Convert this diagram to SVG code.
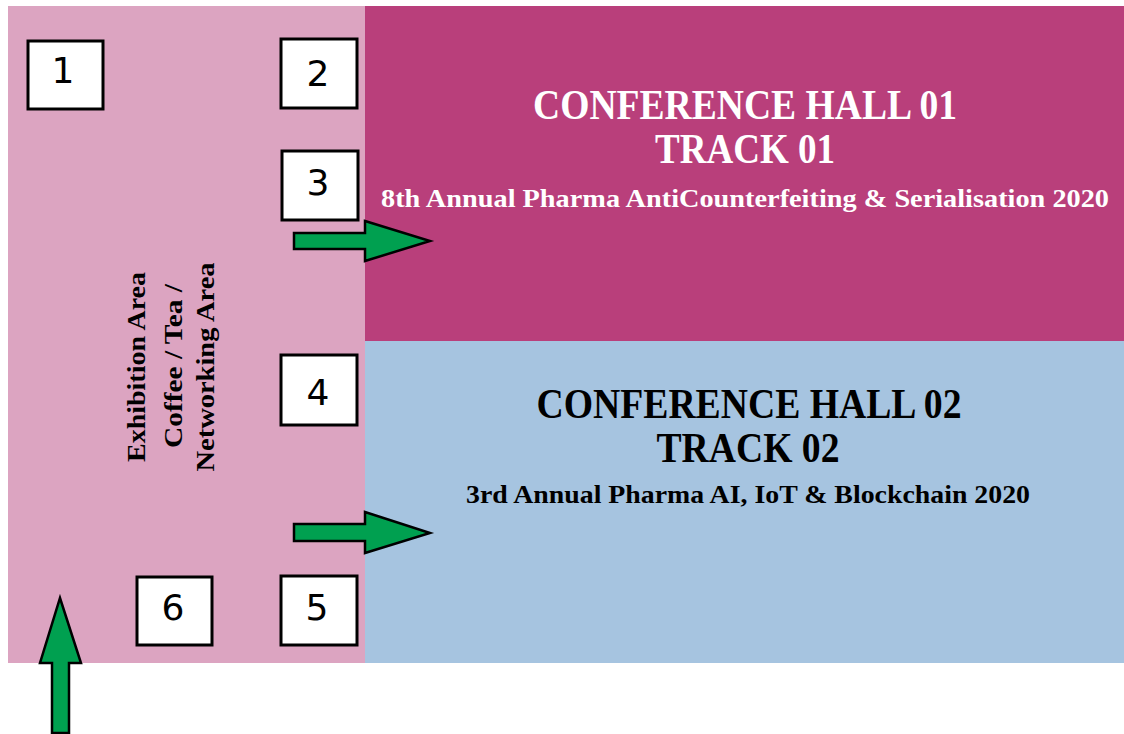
<svg xmlns="http://www.w3.org/2000/svg" width="1124" height="734" viewBox="0 0 1124 734">
<style>
.box{fill:#ffffff;stroke:#000000;stroke-width:3}
.num{font-family:"DejaVu Sans","Verdana",sans-serif;font-size:36px;fill:#000000;text-anchor:middle}
.arrow{fill:#00A050;stroke:#000000;stroke-width:2.5;stroke-linejoin:miter}
.title{font-family:"Liberation Serif","Times New Roman",serif;font-weight:bold;font-size:42px;text-anchor:middle}
.sub{font-family:"Liberation Serif","Times New Roman",serif;font-weight:bold;font-size:25px;text-anchor:middle}
.side{font-family:"Liberation Serif","Times New Roman",serif;font-weight:bold;font-size:26px;text-anchor:middle;fill:#000000}
.w{fill:#ffffff}
.k{fill:#000000}
</style>
<rect width="1124" height="734" fill="#ffffff"/>
<g id="exhibition-area">
<rect x="8" y="6" width="357" height="657" fill="#DCA4C1"/>
<text class="side" transform="translate(145,367) rotate(-90)" textLength="190" lengthAdjust="spacingAndGlyphs">Exhibition Area</text>
<text class="side" transform="translate(182,366) rotate(-90)" textLength="164" lengthAdjust="spacingAndGlyphs">Coffee / Tea /</text>
<text class="side" transform="translate(214,367) rotate(-90)" textLength="209" lengthAdjust="spacingAndGlyphs">Networking Area</text>
</g>
<g id="hall-01">
<rect x="365" y="6" width="759" height="335" fill="#B93F7B"/>
<text class="title w" x="745" y="119" textLength="424" lengthAdjust="spacingAndGlyphs">CONFERENCE HALL 01</text>
<text class="title w" x="745" y="163" textLength="180" lengthAdjust="spacingAndGlyphs">TRACK 01</text>
<text class="sub w" x="745" y="207" textLength="728" lengthAdjust="spacingAndGlyphs">8th Annual Pharma AntiCounterfeiting &amp; Serialisation 2020</text>
</g>
<g id="hall-02">
<rect x="365" y="341" width="759" height="322" fill="#A6C4E0"/>
<text class="title k" x="749" y="418" textLength="425" lengthAdjust="spacingAndGlyphs">CONFERENCE HALL 02</text>
<text class="title k" x="748" y="462" textLength="183" lengthAdjust="spacingAndGlyphs">TRACK 02</text>
<text class="sub k" x="748" y="503" textLength="564" lengthAdjust="spacingAndGlyphs">3rd Annual Pharma AI, IoT &amp; Blockchain 2020</text>
</g>
<g id="booth-1"><rect class="box" x="28" y="41" width="75" height="68"/><text class="num" x="63" y="83">1</text></g>
<g id="booth-2"><rect class="box" x="281" y="39" width="76" height="69"/><text class="num" x="318" y="86">2</text></g>
<g id="booth-3"><rect class="box" x="282" y="151" width="76" height="69"/><text class="num" x="318" y="195">3</text></g>
<g id="booth-4"><rect class="box" x="281" y="355" width="76" height="70"/><text class="num" x="318" y="405">4</text></g>
<g id="booth-5"><rect class="box" x="281" y="576" width="76" height="69"/><text class="num" x="317" y="620">5</text></g>
<g id="booth-6"><rect class="box" x="137" y="577" width="75" height="68"/><text class="num" x="173" y="620">6</text></g>
<g id="connectors">
<polygon class="arrow" points="294,233 365,233 365,221 430,241 365,261 365,249 294,249"/>
<polygon class="arrow" points="294,524 365,524 365,512 430,533 365,553 365,541 294,541"/>
<polygon class="arrow" points="52,733 52,663 40,663 60,598 81,663 69,663 69,733"/>
</g>
</svg>
